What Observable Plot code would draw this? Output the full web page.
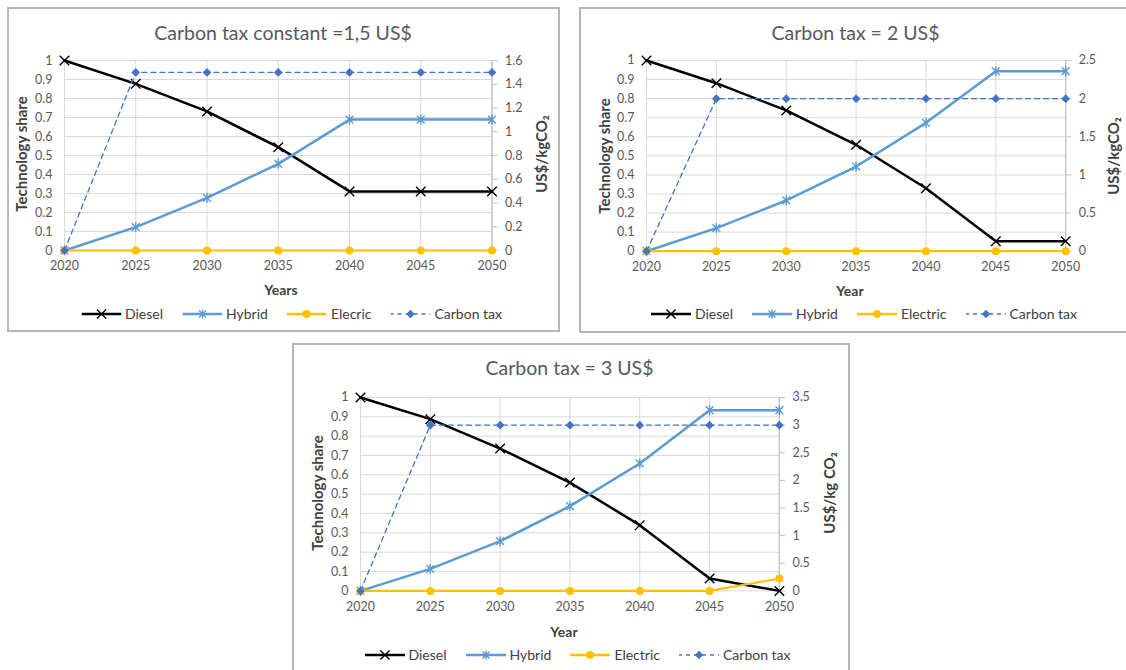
<!DOCTYPE html>
<html><head><meta charset="utf-8">
<script src="https://cdn.jsdelivr.net/npm/d3@7"></script>
<script src="https://cdn.jsdelivr.net/npm/@observablehq/plot@0.6"></script>
<style>
html,body{margin:0;padding:0;background:#fff;overflow:hidden;}
#root{position:relative;width:1126px;height:670px;overflow:hidden;font-family:Lato,"Open Sans",sans-serif;}
.panel{position:absolute;border:2px solid #b7b7b7;box-sizing:border-box;background:#fff;}
.abs{position:absolute;white-space:nowrap;line-height:1;}
.title{font-size:19.5px;color:#595959;transform:translate(-50%,-50%);}
.ytitle{font-size:15px;font-weight:bold;color:#404040;transform:translate(-50%,-50%) rotate(-90deg);}
.xtitle{font-size:14px;font-weight:bold;color:#404040;transform:translate(-50%,-50%);}
.legend{display:flex;align-items:center;gap:19px;transform:translate(-50%,-50%);font-size:14px;color:#404040;}
.item{display:flex;align-items:center;gap:4px;}
.item svg{display:block;}
.chart{position:absolute;}
</style></head>
<body><div id="root"></div>
<script>
// ---------- data ----------
const years = [2020, 2025, 2030, 2035, 2040, 2045, 2050];

const diesel_1_5   = [1, 0.877, 0.732, 0.544, 0.311, 0.311, 0.311];
const hybrid_1_5   = [0, 0.123, 0.277, 0.456, 0.689, 0.689, 0.689];
const electric_1_5 = [0, 0, 0, 0, 0, 0, 0];
const carbonTax_1_5 = [0, 1.5, 1.5, 1.5, 1.5, 1.5, 1.5];

const diesel_2   = [1, 0.881, 0.738, 0.558, 0.330, 0.052, 0.052];
const hybrid_2   = [0, 0.121, 0.266, 0.444, 0.673, 0.944, 0.944];
const electric_2 = [0, 0, 0, 0, 0, 0, 0];
const carbonTax_2 = [0, 2, 2, 2, 2, 2, 2];

const diesel_3   = [1, 0.888, 0.736, 0.560, 0.340, 0.064, 0];
const hybrid_3   = [0, 0.114, 0.257, 0.438, 0.659, 0.934, 0.934];
const electric_3 = [0, 0, 0, 0, 0, 0, 0.064];
const carbonTax_3 = [0, 3, 3, 3, 3, 3, 3];

const leftTicks = [0, 0.1, 0.2, 0.3, 0.4, 0.5, 0.6, 0.7, 0.8, 0.9, 1];
const rightTicks_1_5 = [0, 0.2, 0.4, 0.6, 0.8, 1, 1.2, 1.4, 1.6];
const rightTicks_2 = [0, 0.5, 1, 1.5, 2, 2.5];
const rightTicks_3 = [0, 0.5, 1, 1.5, 2, 2.5, 3, 3.5];

const titles = ["Carbon tax constant =1,5 US$", "Carbon tax = 2 US$", "Carbon tax = 3 US$"];
const xLabels = ["Years", "Year", "Year"];
const yLabel = "Technology share";
const y2Labels = ["US$/kgCO\u2082", "US$/kgCO\u2082", "US$/kg CO\u2082"];
const legend_1_5 = ["Diesel", "Hybrid", "Elecric", "Carbon tax"];
const legend_std = ["Diesel", "Hybrid", "Electric", "Carbon tax"];

// ---------- styles / layout ----------
const C = {diesel: "#000000", hybrid: "#5b9bd5", electric: "#ffc000", tax: "#4472c4", grid: "#d9d9d9", axis: "#bfbfbf"};

const star = {
  draw(ctx, size) {
    const r = Math.sqrt(size / Math.PI), d = r * 0.78;
    ctx.moveTo(0, -r); ctx.lineTo(0, r);
    ctx.moveTo(-d, -d); ctx.lineTo(d, d);
    ctx.moveTo(-d, d); ctx.lineTo(d, -d);
  }
};

const panels = [
  {diesel: diesel_1_5, hybrid: hybrid_1_5, electric: electric_1_5, tax: carbonTax_1_5, rticks: rightTicks_1_5,
   title: titles[0], xl: xLabels[0], y2l: y2Labels[0], legend: legend_1_5,
   box: {l: 7, t: 7, w: 553, h: 325}, plot: {x0: 64.3, x1: 491.8, y0: 60, y1: 250},
   pos: {title: [283, 33], yt: [21, 154], y2t: [541, 154], xt: [281, 290], lg: [291.5, 314]}},
  {diesel: diesel_2, hybrid: hybrid_2, electric: electric_2, tax: carbonTax_2, rticks: rightTicks_2,
   title: titles[1], xl: xLabels[1], y2l: y2Labels[1], legend: legend_std,
   box: {l: 579, t: 7, w: 560, h: 326}, plot: {x0: 646.2, x1: 1065.4, y0: 60, y1: 250.7},
   pos: {title: [855.5, 33], yt: [603.7, 156], y2t: [1112.5, 156], xt: [850, 291], lg: [864, 314]}},
  {diesel: diesel_3, hybrid: hybrid_3, electric: electric_3, tax: carbonTax_3, rticks: rightTicks_3,
   title: titles[2], xl: xLabels[2], y2l: y2Labels[2], legend: legend_std,
   box: {l: 292, t: 343, w: 558, h: 340}, plot: {x0: 360.4, x1: 779.3, y0: 397.3, y1: 590.7},
   pos: {title: [569.5, 368], yt: [316.8, 493], y2t: [829, 493], xt: [564, 632], lg: [577.5, 655]}}
];

const root = document.getElementById("root");

function addText(cls, text, [x, y]) {
  const d = document.createElement("div");
  d.className = "abs " + cls;
  d.style.left = x + "px"; d.style.top = y + "px";
  d.textContent = text;
  root.appendChild(d);
  return d;
}

function swatch(kind) {
  const svg = d3.create("svg").attr("width", 40).attr("height", 12);
  const line = svg.append("line").attr("x1", 0).attr("x2", 40).attr("y1", 6).attr("y2", 6)
    .attr("stroke", C[kind]).attr("stroke-width", kind === "tax" ? 1.3 : 2.5);
  if (kind === "tax") line.attr("stroke-dasharray", "4,4").attr("stroke-dashoffset", 1);
  const g = svg.append("g").attr("transform", "translate(20,6)");
  if (kind === "diesel") g.append("path").attr("d", d3.symbol(d3.symbolTimes, Math.PI * 18)()).attr("stroke", C.diesel).attr("stroke-width", 1.4).attr("fill", "none");
  if (kind === "hybrid") g.append("path").attr("d", d3.symbol(star, Math.PI * 20)()).attr("stroke", C.hybrid).attr("stroke-width", 1.4).attr("fill", "none");
  if (kind === "electric") g.append("circle").attr("r", 4).attr("fill", C.electric);
  if (kind === "tax") g.append("path").attr("d", d3.symbol(d3.symbolDiamond2, Math.PI * 14)()).attr("fill", C.tax);
  return svg.node();
}

const fmtLeft = d => d === 0 ? "0" : d === 1 ? "1" : d.toFixed(1);
const fmtRight = t => String(+t.toFixed(2));

panels.forEach(p => {
  const box = document.createElement("div");
  box.className = "panel";
  Object.assign(box.style, {left: p.box.l + "px", top: p.box.t + "px", width: p.box.w + "px", height: p.box.h + "px"});
  root.appendChild(box);

  const rmax = p.rticks[p.rticks.length - 1];
  const rows = years.map((year, i) => ({year, diesel: p.diesel[i], hybrid: p.hybrid[i], electric: p.electric[i], tax: p.tax[i] / rmax}));
  const rPos = p.rticks.map(t => t / rmax);
  const rLabel = new Map(p.rticks.map(t => [t / rmax, fmtRight(t)]));

  const ml = 50, mr = 50, mt = 10, mb = 30;
  const w = p.plot.x1 - p.plot.x0, h = p.plot.y1 - p.plot.y0;
  const chart = Plot.plot({
    width: w + ml + mr, height: h + mt + mb,
    marginLeft: ml, marginRight: mr, marginTop: mt, marginBottom: mb,
    style: {fontFamily: "Lato, 'Open Sans', sans-serif", fontSize: "12.5px", color: "#595959", background: "transparent", overflow: "visible"},
    x: {type: "linear", domain: [2020, 2050]},
    y: {domain: [0, 1]},
    marks: [
      Plot.gridY(leftTicks, {stroke: C.grid, strokeOpacity: 1}),
      Plot.gridX(years, {stroke: C.grid, strokeOpacity: 1}),
      Plot.ruleX([2050], {stroke: C.axis, strokeWidth: 1.2}),
      Plot.axisX(years, {tickSize: 0, tickPadding: 11, tickFormat: d => String(d), label: null}),
      Plot.axisY(leftTicks, {anchor: "left", tickSize: 0, tickPadding: 12, tickFormat: fmtLeft, label: null}),
      Plot.axisY(rPos, {anchor: "right", tickSize: 5, tickPadding: 8, stroke: C.axis, tickFormat: d => rLabel.get(d), label: null}),
      Plot.line(rows, {x: "year", y: "diesel", stroke: C.diesel, strokeWidth: 2.5}),
      Plot.dot(rows, {x: "year", y: "diesel", symbol: "times", r: 4.4, stroke: C.diesel, strokeWidth: 1.4, fill: "none"}),
      Plot.line(rows, {x: "year", y: "hybrid", stroke: C.hybrid, strokeWidth: 2.5}),
      Plot.dot(rows, {x: "year", y: "hybrid", symbol: star, r: 5, stroke: C.hybrid, strokeWidth: 1.4, fill: "none"}),
      Plot.line(rows, {x: "year", y: "electric", stroke: C.electric, strokeWidth: 2.2}),
      Plot.dot(rows, {x: "year", y: "electric", r: 4, fill: C.electric, stroke: "none"}),
      Plot.line(rows, {x: "year", y: "tax", stroke: C.tax, strokeWidth: 1.3, strokeDasharray: "5,4"}),
      Plot.dot(rows, {x: "year", y: "tax", symbol: "diamond2", r: 3.9, fill: C.tax, stroke: "none"})
    ]
  });
  chart.classList.add("chart");
  chart.style.left = (p.plot.x0 - ml) + "px";
  chart.style.top = (p.plot.y0 - mt) + "px";
  root.appendChild(chart);

  addText("title", p.title, p.pos.title);
  addText("ytitle", yLabel, p.pos.yt);
  addText("ytitle", p.y2l, p.pos.y2t);
  addText("xtitle", p.xl, p.pos.xt);

  const lg = document.createElement("div");
  lg.className = "abs legend";
  lg.style.left = p.pos.lg[0] + "px"; lg.style.top = p.pos.lg[1] + "px";
  ["diesel", "hybrid", "electric", "tax"].forEach((k, i) => {
    const it = document.createElement("div");
    it.className = "item";
    it.appendChild(swatch(k));
    const s = document.createElement("span");
    s.textContent = p.legend[i];
    it.appendChild(s);
    lg.appendChild(it);
  });
  root.appendChild(lg);
});
</script>
</body></html>
